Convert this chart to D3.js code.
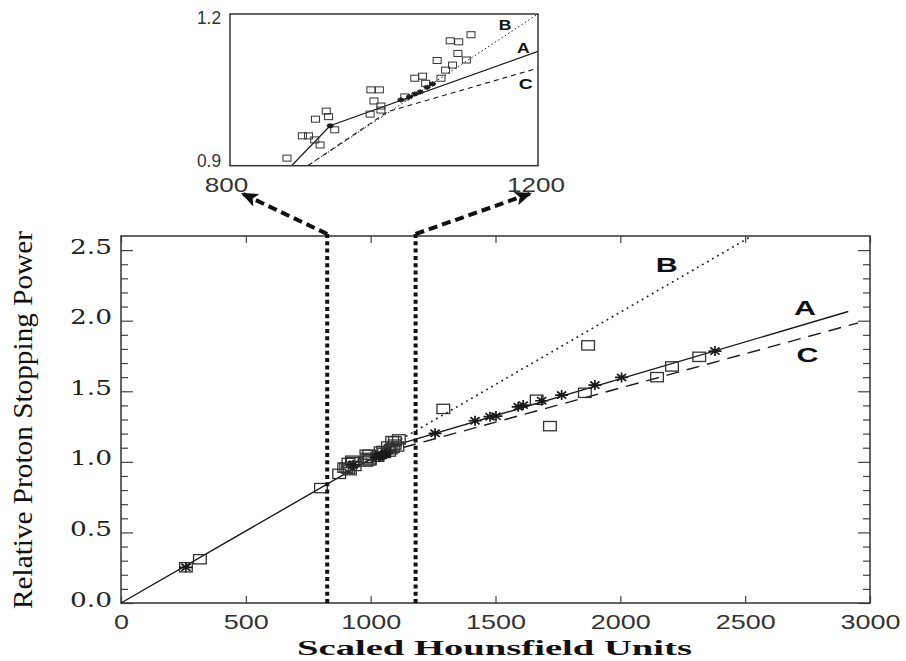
<!DOCTYPE html>
<html><head><meta charset="utf-8">
<script src="https://cdn.jsdelivr.net/npm/d3@7"></script>
<style>body{margin:0;background:#fff}svg{display:block}</style>
</head><body>
<svg id="chart" width="906" height="661"></svg>
<script>
// ---------------- data ----------------
const squareHU  = [260, 316, 801,
  874, 894, 902, 911, 910, 917, 925, 928, 936, 982, 983, 994, 987, 996, 996, 1027,
  1040, 1050, 1054, 1069, 1074, 1080, 1089, 1086, 1097, 1113, 1096, 1107,
  1291, 1665, 1718, 1858, 1871, 2147, 2207, 2316];
const squareRSP = [0.253, 0.31, 0.814,
  0.915, 0.959, 0.959, 0.992, 0.951, 0.941, 1.008, 0.997, 0.971, 1.002, 1.050, 1.050, 1.028, 1.018, 1.010, 1.036,
  1.073, 1.077, 1.063, 1.108, 1.073, 1.089, 1.099, 1.147, 1.145, 1.159, 1.122, 1.109,
  1.375, 1.44, 1.253, 1.489, 1.825, 1.60, 1.676, 1.744];
const starHU  = [260, 930, 1022, 1033, 1040, 1047, 1056, 1063,
  1258, 1418, 1478, 1502, 1591, 1611, 1685, 1765, 1898, 2005, 2379];
const starRSP = [0.253, 0.979, 1.030, 1.036, 1.042, 1.046, 1.055, 1.062,
  1.202, 1.291, 1.320, 1.324, 1.390, 1.402, 1.433, 1.473, 1.544, 1.598, 1.785];

// calibration curves (main panel)
const lineA_HU = [0, 1093, 2913],  lineA_RSP = [0, 1.115, 2.065];
const lineB_HU = [900, 2517],      lineB_RSP = [0.933, 2.59];
const lineC_HU = [900, 1050, 2953], lineC_RSP = [0.925, 1.063, 1.985];
// calibration curves (inset)
const insetA_HU = [880, 930, 1200],  insetA_RSP = [0.9, 0.979, 1.126];
const insetB_HU = [901, 1200],       insetB_RSP = [0.9, 1.2];
const insetC_HU = [901, 1005, 1200], insetC_RSP = [0.9, 1.007, 1.093];

const zoomWindowHU = [826, 1180];
const xTicks = [0, 500, 1000, 1500, 2000, 2500, 3000];
const yTicks = [0.0, 0.5, 1.0, 1.5, 2.0, 2.5];
const yMinorTicks = [0.1,0.2,0.3,0.4,0.6,0.7,0.8,0.9,1.1,1.2,1.3,1.4,1.6,1.7,1.8,1.9,2.1,2.2,2.3,2.4];
const insetXTicks = [800, 1200];
const insetYTicks = [0.9, 1.2];
const curveLabels = ["A", "B", "C"];

// ---------------- drawing ----------------
const svg = d3.select("#chart");
const INK = "#1a1a1a";

const x = d3.scaleLinear().domain([0, 3000]).range([121, 870]);
const y = d3.scaleLinear().domain([0, 2.6]).range([603, 236]);
const ix = d3.scaleLinear().domain([800, 1200]).range([230, 538]);
const iy = d3.scaleLinear().domain([0.9, 1.2]).range([165.7, 14]);

const zip = (a, b) => a.map((v, i) => [v, b[i]]);

function styleTicks(g) {
  g.select(".domain").remove();
  g.selectAll(".tick line").attr("stroke", "#444").attr("stroke-width", 1.2);
}

// bottom axis with labels
const gxb = svg.append("g").attr("transform", `translate(0,${y(0)})`)
  .call(d3.axisBottom(x).tickValues(xTicks).tickSize(-7).tickSizeOuter(0).tickFormat(d3.format("d")));
styleTicks(gxb);
gxb.selectAll(".tick text").each(function(d) {
  const w = String(d).length * 15;
  d3.select(this).attr("text-anchor", "start").attr("x", -w / 2).attr("y", 25.5).attr("dy", 0)
    .attr("textLength", w).attr("lengthAdjust", "spacingAndGlyphs")
    .attr("font-family", "'Liberation Sans', Arial, sans-serif").attr("font-size", 21).attr("fill", "#333");
});
// top axis
const gxt = svg.append("g").attr("transform", `translate(0,${y(2.6)})`)
  .call(d3.axisTop(x).tickValues(xTicks).tickSize(-7).tickSizeOuter(0).tickFormat(""));
styleTicks(gxt);

// left axis
const gyl = svg.append("g").attr("transform", `translate(${x(0)},0)`)
  .call(d3.axisLeft(y).tickValues(yTicks).tickSize(-12).tickSizeOuter(0).tickFormat(d3.format(".1f")));
styleTicks(gyl);
gyl.selectAll(".tick text").each(function() {
  d3.select(this).attr("text-anchor", "start").attr("x", 70 - 121).attr("y", 3).attr("dy", 0)
    .attr("textLength", 42).attr("lengthAdjust", "spacingAndGlyphs")
    .attr("font-family", "'DejaVu Serif', serif").attr("font-size", 21).attr("fill", "#222");
});
const gylm = svg.append("g").attr("transform", `translate(${x(0)},0)`)
  .call(d3.axisLeft(y).tickValues(yMinorTicks).tickSize(-7).tickSizeOuter(0).tickFormat(""));
styleTicks(gylm);
// right axis
const gyr = svg.append("g").attr("transform", `translate(${x(3000)},0)`)
  .call(d3.axisRight(y).tickValues(yTicks).tickSize(-12).tickSizeOuter(0).tickFormat(""));
styleTicks(gyr);
const gyrm = svg.append("g").attr("transform", `translate(${x(3000)},0)`)
  .call(d3.axisRight(y).tickValues(yMinorTicks).tickSize(-7).tickSizeOuter(0).tickFormat(""));
styleTicks(gyrm);

// frame
svg.append("rect").attr("x", x(0)).attr("y", y(2.6))
  .attr("width", x(3000) - x(0)).attr("height", y(0) - y(2.6))
  .attr("fill", "none").attr("stroke", "#333").attr("stroke-width", 1.5);

// axis titles
svg.append("text").attr("transform", "translate(32,420) rotate(-90)")
  .attr("x", -189).attr("y", 0).attr("textLength", 378).attr("lengthAdjust", "spacingAndGlyphs")
  .attr("font-family", "'Liberation Serif', 'Times New Roman', serif").attr("font-size", 28).attr("fill", "#111")
  .text("Relative Proton Stopping Power");
svg.append("text").attr("x", 297).attr("y", 655).attr("textLength", 395).attr("lengthAdjust", "spacingAndGlyphs")
  .attr("font-family", "'Liberation Serif', 'Times New Roman', serif").attr("font-weight", "bold").attr("font-size", 22).attr("fill", "#111")
  .text("Scaled Hounsfield Units");

// curves (main)
const mainLine = d3.line().x(d => x(d[0])).y(d => y(d[1]));
svg.append("path").datum(zip(lineA_HU, lineA_RSP)).attr("d", mainLine)
  .attr("fill", "none").attr("stroke", INK).attr("stroke-width", 1.4);
svg.append("path").datum(zip(lineB_HU, lineB_RSP)).attr("d", mainLine)
  .attr("fill", "none").attr("stroke", INK).attr("stroke-width", 1.6).attr("stroke-dasharray", "1.8,4");
svg.append("path").datum(zip(lineC_HU, lineC_RSP)).attr("d", mainLine)
  .attr("fill", "none").attr("stroke", INK).attr("stroke-width", 1.4).attr("stroke-dasharray", "13,8");

// markers (main)
const sqW = 12.7, sqH = 9.3;
svg.append("g").selectAll("rect").data(zip(squareHU, squareRSP)).join("rect")
  .attr("x", d => x(d[0]) - sqW / 2).attr("y", d => y(d[1]) - sqH / 2)
  .attr("width", sqW).attr("height", sqH)
  .attr("fill", "none").attr("stroke", "#333").attr("stroke-width", 1.3);

function starPath(cx, cy, rx, ry) {
  let p = "";
  [0, 45, 90, 135].forEach(a => {
    const r = a * Math.PI / 180, dx = Math.cos(r) * rx, dy = Math.sin(r) * ry;
    p += `M${cx - dx},${cy - dy}L${cx + dx},${cy + dy}`;
  });
  return p;
}
svg.append("g").selectAll("path").data(zip(starHU, starRSP)).join("path")
  .attr("d", d => starPath(x(d[0]), y(d[1]), 6.5, 5))
  .attr("stroke", INK).attr("stroke-width", 1.7).attr("fill", "none");

// zoom window lines (thick dotted)
svg.append("g").selectAll("line").data(zoomWindowHU).join("line")
  .attr("x1", d => x(d)).attr("x2", d => x(d)).attr("y1", y(0)).attr("y2", y(2.6) - 2)
  .attr("stroke", "#111").attr("stroke-width", 4).attr("stroke-dasharray", "4,3.3");

// arrows to inset
const defs = svg.append("defs");
defs.append("marker").attr("id", "ah").attr("viewBox", "0 -7 17 14")
  .attr("refX", 17).attr("refY", 0).attr("markerWidth", 17).attr("markerHeight", 14)
  .attr("markerUnits", "userSpaceOnUse").attr("orient", "auto")
  .append("path").attr("d", "M0,-7L17,0L0,7L4,0Z").attr("fill", "#111");
const arrowTips = [[241, 193], [532, 193]];
svg.append("g").selectAll("line").data(zoomWindowHU).join("line")
  .attr("x1", d => x(d)).attr("y1", y(2.6) - 2)
  .attr("x2", (d, i) => arrowTips[i][0]).attr("y2", (d, i) => arrowTips[i][1])
  .attr("stroke", "#111").attr("stroke-width", 4).attr("stroke-dasharray", "9,5")
  .attr("marker-end", "url(#ah)");

// curve labels (main)
const mainLabelPos = [[805, 315], [666.7, 271.5], [807.5, 362]];
svg.append("g").selectAll("text").data(curveLabels).join("text")
  .attr("x", (d, i) => mainLabelPos[i][0] - 11).attr("y", (d, i) => mainLabelPos[i][1])
  .attr("textLength", 22).attr("lengthAdjust", "spacingAndGlyphs")
  .attr("font-family", "'Liberation Sans', Arial, sans-serif").attr("font-weight", "bold")
  .attr("font-size", 21).attr("fill", "#111").text(d => d);

// ---------------- inset ----------------
defs.append("clipPath").attr("id", "insetClip").append("rect")
  .attr("x", ix(800)).attr("y", iy(1.2)).attr("width", ix(1200) - ix(800)).attr("height", iy(0.9) - iy(1.2));
const ins = svg.append("g");
const insetLine = d3.line().x(d => ix(d[0])).y(d => iy(d[1]));
const insClip = ins.append("g").attr("clip-path", "url(#insetClip)");
insClip.append("path").datum(zip(insetA_HU, insetA_RSP)).attr("d", insetLine)
  .attr("fill", "none").attr("stroke", INK).attr("stroke-width", 1.3);
insClip.append("path").datum(zip(insetB_HU, insetB_RSP)).attr("d", insetLine)
  .attr("fill", "none").attr("stroke", INK).attr("stroke-width", 1).attr("stroke-dasharray", "1.5,2.5");
insClip.append("path").datum(zip(insetC_HU, insetC_RSP)).attr("d", insetLine)
  .attr("fill", "none").attr("stroke", INK).attr("stroke-width", 1.1).attr("stroke-dasharray", "5,4");

const inSqW = 8, inSqH = 6;
const inSquares = zip(squareHU, squareRSP).filter(d => d[0] >= 800 && d[0] <= 1200 && d[1] >= 0.9 && d[1] <= 1.2);
insClip.append("g").selectAll("rect").data(inSquares).join("rect")
  .attr("x", d => ix(d[0]) - inSqW / 2).attr("y", d => iy(d[1]) - inSqH / 2)
  .attr("width", inSqW).attr("height", inSqH)
  .attr("fill", "none").attr("stroke", "#333").attr("stroke-width", 1);
const inStars = zip(starHU, starRSP).filter(d => d[0] >= 800 && d[0] <= 1200 && d[1] >= 0.9 && d[1] <= 1.2);
insClip.append("g").selectAll("path").data(inStars).join("path")
  .attr("d", d => starPath(ix(d[0]), iy(d[1]), 3.5, 2.6))
  .attr("stroke", INK).attr("stroke-width", 1.4).attr("fill", "none");

ins.append("rect").attr("x", ix(800)).attr("y", iy(1.2))
  .attr("width", ix(1200) - ix(800)).attr("height", iy(0.9) - iy(1.2))
  .attr("fill", "none").attr("stroke", "#333").attr("stroke-width", 1.5);

// inset tick labels
const fmt1 = d3.format(".1f");
ins.append("g").selectAll("text").data(insetYTicks).join("text")
  .attr("x", 197).attr("y", d => d === 1.2 ? iy(d) + 10 : iy(d) + 1.3)
  .attr("textLength", 24).attr("lengthAdjust", "spacingAndGlyphs")
  .attr("font-family", "'Liberation Sans', Arial, sans-serif").attr("font-size", 19).attr("fill", "#333")
  .text(d => fmt1(d));
ins.append("g").selectAll("text").data(insetXTicks).join("text")
  .attr("x", d => ix(d) + (d === 800 ? -3.5 : -2) - String(d).length * 14.5 / 2).attr("y", 191.5)
  .attr("textLength", d => String(d).length * 14.5).attr("lengthAdjust", "spacingAndGlyphs")
  .attr("font-family", "'Liberation Sans', Arial, sans-serif").attr("font-size", 21).attr("fill", "#333")
  .text(d => d);

// inset curve labels
const insetLabelPos = [[523.3, 53], [505, 30], [525.7, 88.5]];
const insetLabelW = [12.7, 12.7, 14];
ins.append("g").selectAll("text").data(curveLabels).join("text")
  .attr("x", (d, i) => insetLabelPos[i][0] - insetLabelW[i] / 2).attr("y", (d, i) => insetLabelPos[i][1])
  .attr("textLength", (d, i) => insetLabelW[i]).attr("lengthAdjust", "spacingAndGlyphs")
  .attr("font-family", "'Liberation Sans', Arial, sans-serif").attr("font-weight", "bold")
  .attr("font-size", 14).attr("fill", "#111").text(d => d);
</script>
</body></html>
